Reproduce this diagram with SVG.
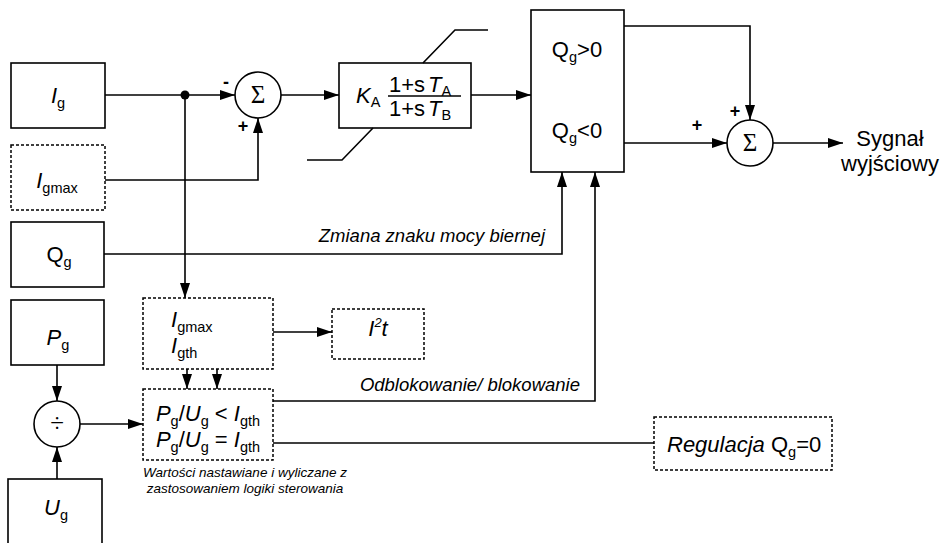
<svg xmlns="http://www.w3.org/2000/svg" width="943" height="543" viewBox="0 0 943 543">
<style>
.box{fill:#fff;stroke:#000;stroke-width:1.6}
.dash{fill:#fff;stroke:#000;stroke-width:1.5;stroke-dasharray:3 2}
.circ{fill:#fff;stroke:#000;stroke-width:1.6}
.ln{fill:none;stroke:#000;stroke-width:1.6}
.arr{marker-end:url(#ah)}
text{font-family:"Liberation Sans",Arial,sans-serif;fill:#000}
.t{font-size:22px}
.it{font-style:italic}
.sub{font-size:14.5px;font-style:normal}
.lbl{font-size:18.5px;font-style:italic}
.small{font-size:13.5px;font-style:italic}
.sym{font-family:"Liberation Serif","Times New Roman",serif;font-size:25px}
.pm{font-size:18px;font-weight:bold}
</style>
<defs>
<marker id="ah" markerUnits="userSpaceOnUse" markerWidth="15" markerHeight="10" refX="15" refY="5" orient="auto">
<path d="M0,0 L15,5 L0,10 z" fill="#000"/>
</marker>
</defs>
<rect width="943" height="543" fill="#fff"/>

<g id="connectors">
<path class="ln arr" d="M105,95 H235"/>
<path class="ln arr" d="M185,95 V298"/>
<path class="ln arr" d="M105,180 H258 V118"/>
<path class="ln arr" d="M281,95 H339"/>
<path class="ln arr" d="M471,95 H531"/>
<path class="ln arr" d="M104,254 H562 V172"/>
<path class="ln arr" d="M273,401 H595 V172"/>
<path class="ln arr" d="M624,26 H750 V120"/>
<path class="ln arr" d="M624,143 H727"/>
<path class="ln arr" d="M773,143 H843"/>
<path class="ln arr" d="M273,332 H332"/>
<path class="ln arr" d="M187,369 V389"/>
<path class="ln arr" d="M217,369 V389"/>
<path class="ln arr" d="M57,365 V401"/>
<path class="ln arr" d="M57,479 V447"/>
<path class="ln arr" d="M80,424 H143"/>
<path class="ln" d="M273,443 H654"/>
<circle cx="185" cy="95" r="4.5" fill="#000"/>
<text class="pm" x="226" y="88" text-anchor="middle">-</text>
<text class="pm" x="243" y="132" text-anchor="middle">+</text>
<text class="pm" x="735" y="117" text-anchor="middle">+</text>
<text class="pm" x="697" y="131" text-anchor="middle">+</text>
<text class="lbl" x="545" y="242" text-anchor="end">Zmiana znaku mocy biernej</text>
<text class="lbl" x="580" y="391" text-anchor="end">Odblokowanie/ blokowanie</text>
</g>

<g id="node-ig">
<rect class="box" x="11" y="63" width="94" height="65"/>
<text class="t" x="58" y="103" text-anchor="middle"><tspan class="it">I</tspan><tspan class="sub" dy="5">g</tspan></text>
</g>

<g id="node-igmax">
<rect class="dash" x="11" y="145" width="94" height="65"/>
<text class="t" x="57" y="188" text-anchor="middle"><tspan class="it">I</tspan><tspan class="sub" dy="5">gmax</tspan></text>
</g>

<g id="node-qg">
<rect class="box" x="11" y="222" width="93" height="65"/>
<text class="t" x="59" y="262" text-anchor="middle">Q<tspan class="sub" dy="5">g</tspan></text>
</g>

<g id="node-pg">
<rect class="box" x="11" y="300" width="93" height="65"/>
<text class="t" x="58" y="345" text-anchor="middle"><tspan class="it">P</tspan><tspan class="sub" dy="5">g</tspan></text>
</g>

<g id="node-ug">
<rect class="box" x="8" y="479" width="94" height="70"/>
<text class="t" x="56" y="515" text-anchor="middle"><tspan class="it">U</tspan><tspan class="sub" dy="5">g</tspan></text>
</g>

<g id="node-sum1">
<circle class="circ" cx="258" cy="95" r="23"/>
<text class="sym" x="258" y="103" text-anchor="middle">Σ</text>
</g>

<g id="node-ka">
<rect class="box" x="339" y="63" width="132" height="65"/>
<path class="ln" d="M423,63 L455,30 H488"/>
<path class="ln" d="M373,128 L342,160 H307"/>
<text class="t" x="356" y="103"><tspan class="it">K</tspan><tspan class="sub" dy="4">A</tspan></text>
<path class="ln" d="M388,96 H461" stroke-width="1.3"/>
<text class="t" x="389" y="92">1+s<tspan class="it" dx="3">T</tspan><tspan class="sub" dy="4">A</tspan></text>
<text class="t" x="389" y="116">1+s<tspan class="it" dx="3">T</tspan><tspan class="sub" dy="4">B</tspan></text>
</g>

<g id="node-qswitch">
<rect class="box" x="531" y="10" width="93" height="162"/>
<text class="t" x="577" y="57" text-anchor="middle">Q<tspan class="sub" dy="5">g</tspan><tspan dy="-5">&gt;0</tspan></text>
<text class="t" x="577" y="138" text-anchor="middle">Q<tspan class="sub" dy="5">g</tspan><tspan dy="-5">&lt;0</tspan></text>
</g>

<g id="node-sum2">
<circle class="circ" cx="750" cy="143" r="23"/>
<text class="sym" x="750" y="151" text-anchor="middle">Σ</text>
</g>

<g id="node-output">
<text class="t" x="890" y="146" text-anchor="middle">Sygnał</text>
<text class="t" x="890" y="171" text-anchor="middle">wyjściowy</text>
</g>

<g id="node-limits">
<rect class="dash" x="143" y="298" width="130" height="71"/>
<text class="t" x="171" y="327"><tspan class="it">I</tspan><tspan class="sub" dy="5">gmax</tspan></text>
<text class="t" x="171" y="353"><tspan class="it">I</tspan><tspan class="sub" dy="5">gth</tspan></text>
</g>

<g id="node-i2t">
<rect class="dash" x="332" y="309" width="92" height="50"/>
<text class="t it" x="378" y="336" text-anchor="middle">I<tspan font-size="13" dy="-9">2</tspan><tspan dy="9">t</tspan></text>
</g>

<g id="node-div">
<circle class="circ" cx="57" cy="424" r="23"/>
<text class="sym" x="57" y="432" text-anchor="middle">÷</text>
</g>

<g id="node-compare">
<rect class="dash" x="143" y="389" width="130" height="71"/>
<text class="t" x="208" y="421" text-anchor="middle"><tspan class="it">P</tspan><tspan class="sub" dy="5">g</tspan><tspan dy="-5">/</tspan><tspan class="it">U</tspan><tspan class="sub" dy="5">g</tspan><tspan dy="-5"> &lt; </tspan><tspan class="it">I</tspan><tspan class="sub" dy="5">gth</tspan></text>
<text class="t" x="208" y="447" text-anchor="middle"><tspan class="it">P</tspan><tspan class="sub" dy="5">g</tspan><tspan dy="-5">/</tspan><tspan class="it">U</tspan><tspan class="sub" dy="5">g</tspan><tspan dy="-5"> = </tspan><tspan class="it">I</tspan><tspan class="sub" dy="5">gth</tspan></text>
<text class="small" x="245" y="477" text-anchor="middle">Wartości nastawiane i wyliczane z</text>
<text class="small" x="245" y="493" text-anchor="middle">zastosowaniem logiki sterowania</text>
</g>

<g id="node-regulacja">
<rect class="dash" x="654" y="417" width="178" height="53"/>
<text class="t" x="667" y="452"><tspan class="it">Regulacja </tspan>Q<tspan class="sub" dy="5">g</tspan><tspan dy="-5">=0</tspan></text>
</g>
</svg>
